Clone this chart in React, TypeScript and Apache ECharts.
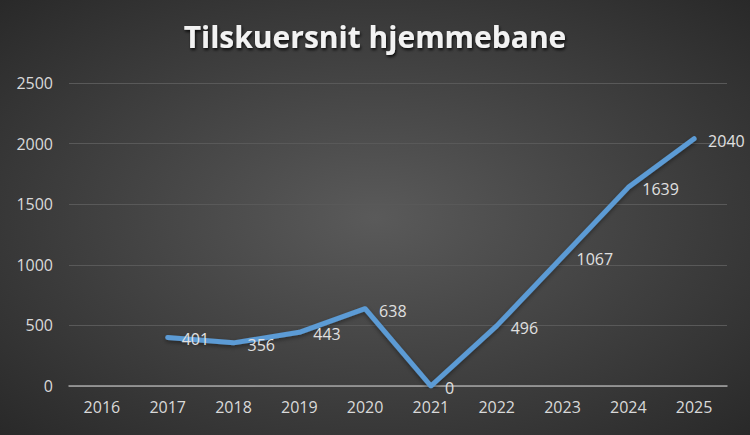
import React, { useEffect, useRef } from "react";
import * as echarts from "echarts";

const years = ["2016", "2017", "2018", "2019", "2020", "2021", "2022", "2023", "2024", "2025"];
const attendance: (number | null)[] = [null, 401, 356, 443, 638, 0, 496, 1067, 1639, 2040];
const titleText = "Tilskuersnit hjemmebane";

export default function App() {
  const ref = useRef<HTMLDivElement>(null);
  useEffect(() => {
    document.body.style.margin = "0";
    if (!ref.current) return;
    const chart = echarts.init(ref.current, null, { renderer: "svg" });
    chart.setOption({
      animation: false,
      backgroundColor: {
        type: "radial",
        x: 0.5,
        y: 0.5,
        r: 0.75,
        colorStops: [
          { offset: 0, color: "#5a5a5a" },
          { offset: 1, color: "#262626" },
        ],
      },
      title: {
        text: titleText,
        left: "center",
        top: 16,
        textStyle: {
          color: "#f2f2f2",
          fontFamily: "Open Sans",
          fontWeight: "bold",
          fontSize: 30,
          textShadowColor: "rgba(0,0,0,0.8)",
          textShadowBlur: 3,
          textShadowOffsetX: 1,
          textShadowOffsetY: 2,
        },
      },
      grid: { left: 69, right: 23, top: 83, bottom: 49 },
      xAxis: {
        type: "category",
        data: years,
        boundaryGap: true,
        axisLine: { show: true, lineStyle: { color: "#a6a6a6", width: 1.5 } },
        axisTick: { show: false },
        axisLabel: { color: "#d9d9d9", fontFamily: "Open Sans", fontSize: 16, margin: 13 },
      },
      yAxis: {
        type: "value",
        min: 0,
        max: 2500,
        interval: 500,
        axisLine: { show: false },
        axisTick: { show: false },
        splitLine: { lineStyle: { color: "#595959", width: 1 } },
        axisLabel: {
          color: "#d9d9d9",
          fontFamily: "Open Sans",
          fontSize: 16,
          margin: 16,
          formatter: (v: number) => String(v),
        },
      },
      series: [
        {
          type: "line",
          data: attendance,
          showSymbol: true,
          symbol: "circle",
          symbolSize: 2,
          itemStyle: { color: "rgba(0,0,0,0)", borderWidth: 0 },
          connectNulls: false,
          lineStyle: {
            color: "#5b9bd5",
            width: 5,
            cap: "round",
            join: "round",
            shadowColor: "rgba(0,0,0,0.4)",
            shadowBlur: 4,
            shadowOffsetY: 2,
          },
          label: {
            show: true,
            position: "right",
            distance: 13,
            offset: [0, 2],
            color: "#e0e0e0",
            opacity: 1,
            fontFamily: "Open Sans",
            fontSize: 16,
          },
        },
      ],
    });
    return () => chart.dispose();
  }, []);
  return <div ref={ref} style={{ width: 750, height: 435 }} />;
}
